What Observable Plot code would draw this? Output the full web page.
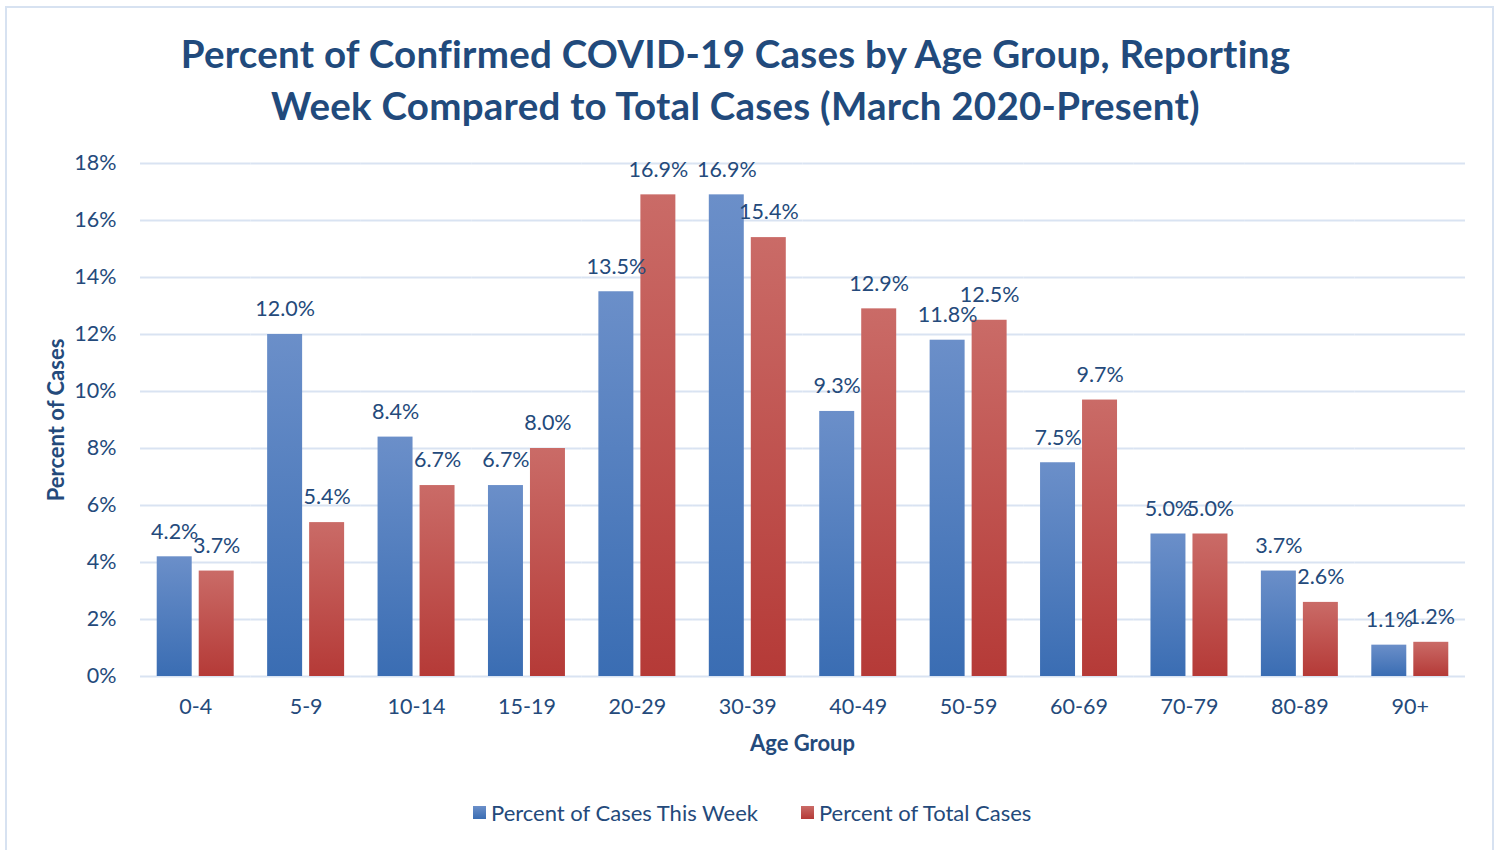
<!DOCTYPE html>
<html>
<head>
<meta charset="utf-8">
<script src="https://cdn.jsdelivr.net/npm/d3@7"></script>
<script src="https://cdn.jsdelivr.net/npm/@observablehq/plot@0.6"></script>
<style>
  html, body { margin: 0; padding: 0; background: #fff; }
  body { width: 1497px; height: 850px; overflow: hidden; position: relative; font-family: Lato, "Open Sans", sans-serif; color: #244A7B; }
  #frame { position: absolute; left: 5px; top: 6px; width: 1489px; height: 860px; border: 2px solid #D7E2F1; box-sizing: border-box; }
  #title { position: absolute; left: 0; top: 27px; width: 1471px; text-align: center; font-weight: 700; font-size: 38.5px; letter-spacing: 0.25px; line-height: 52px; color: #214A7C; }
  #chart { position: absolute; left: 0; top: 140px; }
  .axtitle { position: absolute; font-weight: 700; font-size: 22px; color: #244A7B; white-space: nowrap; }
  #xtitle { left: 0; width: 1605px; text-align: center; top: 729px; }
  #ytitle { left: 55px; top: 420px; transform: translate(-50%, -50%) rotate(-90deg); }
  #legend { position: absolute; top: 799px; left: 473px; font-size: 22px; display: flex; align-items: center; white-space: nowrap; }
  .sw { display: inline-block; width: 13px; height: 13px; margin-right: 5px; }
  .item { display: flex; align-items: center; }
</style>
</head>
<body>
<div id="frame"></div>
<div id="title">Percent of Confirmed COVID-19 Cases by Age Group, Reporting<br>Week Compared to Total Cases (March 2020-Present)</div>
<div id="chart"></div>
<div class="axtitle" id="xtitle">Age Group</div>
<div class="axtitle" id="ytitle">Percent of Cases</div>
<div id="legend"></div>
<script>
const ageGroups = ["0-4", "5-9", "10-14", "15-19", "20-29", "30-39", "40-49", "50-59", "60-69", "70-79", "80-89", "90+"];
const seriesNames = ["Percent of Cases This Week", "Percent of Total Cases"];
const weekValues = [4.2, 12.0, 8.4, 6.7, 13.5, 16.9, 9.3, 11.8, 7.5, 5.0, 3.7, 1.1];
const totalValues = [3.7, 5.4, 6.7, 8.0, 16.9, 15.4, 12.9, 12.5, 9.7, 5.0, 2.6, 1.2];
const yTicks = [0, 2, 4, 6, 8, 10, 12, 14, 16, 18];

const data = [];
ageGroups.forEach((g, i) => {
  data.push({group: g, series: seriesNames[0], value: weekValues[i]});
  data.push({group: g, series: seriesNames[1], value: totalValues[i]});
});

const textColor = "#244A7B";
const gridColor = "#D9E3F2";

const plot = Plot.plot({
  width: 1497,
  height: 640,
  marginTop: 23,
  marginBottom: 104,
  marginLeft: 140,
  marginRight: 32,
  style: {fontFamily: "Lato, 'Open Sans', sans-serif", fontSize: "21.5px", color: textColor, background: "transparent"},
  fx: {domain: ageGroups, padding: 0, round: false, label: null},
  x: {domain: seriesNames, paddingInner: 0.167, paddingOuter: 0.398, round: false, axis: null},
  y: {domain: [0, 18], label: null},
  color: {type: "ordinal", domain: seriesNames, range: ["url(#gBlue)", "url(#gRed)"]},
  marks: [
    Plot.gridY(yTicks, {stroke: gridColor, strokeWidth: 2, strokeOpacity: 1}),
    Plot.axisY(yTicks, {tickSize: 0, tickPadding: 24, tickFormat: d => d + "%", fill: textColor, fontSize: 21.5, label: null}),
    Plot.axisFx({anchor: "bottom", tickSize: 0, tickPadding: 22, fill: textColor, fontSize: 21.5, label: null}),
    Plot.barY(data, {fx: "group", x: "series", y: "value", fill: "series"}),
    Plot.text(data, {fx: "group", x: "series", y: "value", text: d => d.value.toFixed(1) + "%", dy: -25, fill: textColor, fontSize: 21.5})
  ]
});

const ns = "http://www.w3.org/2000/svg";
const defs = document.createElementNS(ns, "defs");
function grad(id, top, bottom) {
  const lg = document.createElementNS(ns, "linearGradient");
  lg.setAttribute("id", id);
  lg.setAttribute("x1", "0"); lg.setAttribute("y1", "0");
  lg.setAttribute("x2", "0"); lg.setAttribute("y2", "1");
  [[0, top], [1, bottom]].forEach(([o, c]) => {
    const s = document.createElementNS(ns, "stop");
    s.setAttribute("offset", o);
    s.setAttribute("stop-color", c);
    lg.appendChild(s);
  });
  defs.appendChild(lg);
}
grad("gBlue", "#6B8FC9", "#3A6DB3");
grad("gRed", "#CA6B67", "#B53A37");
plot.insertBefore(defs, plot.firstChild);
document.getElementById("chart").appendChild(plot);

const legend = document.getElementById("legend");
const swatches = [["linear-gradient(#6B8FC9, #3A6DB3)", seriesNames[0]], ["linear-gradient(#CA6B67, #B53A37)", seriesNames[1]]];
swatches.forEach(([bg, name], i) => {
  const item = document.createElement("div");
  item.className = "item";
  if (i > 0) item.style.marginLeft = "43px";
  const sw = document.createElement("span");
  sw.className = "sw";
  sw.style.background = bg;
  const t = document.createElement("span");
  t.textContent = name;
  item.appendChild(sw);
  item.appendChild(t);
  legend.appendChild(item);
});
</script>
</body>
</html>
